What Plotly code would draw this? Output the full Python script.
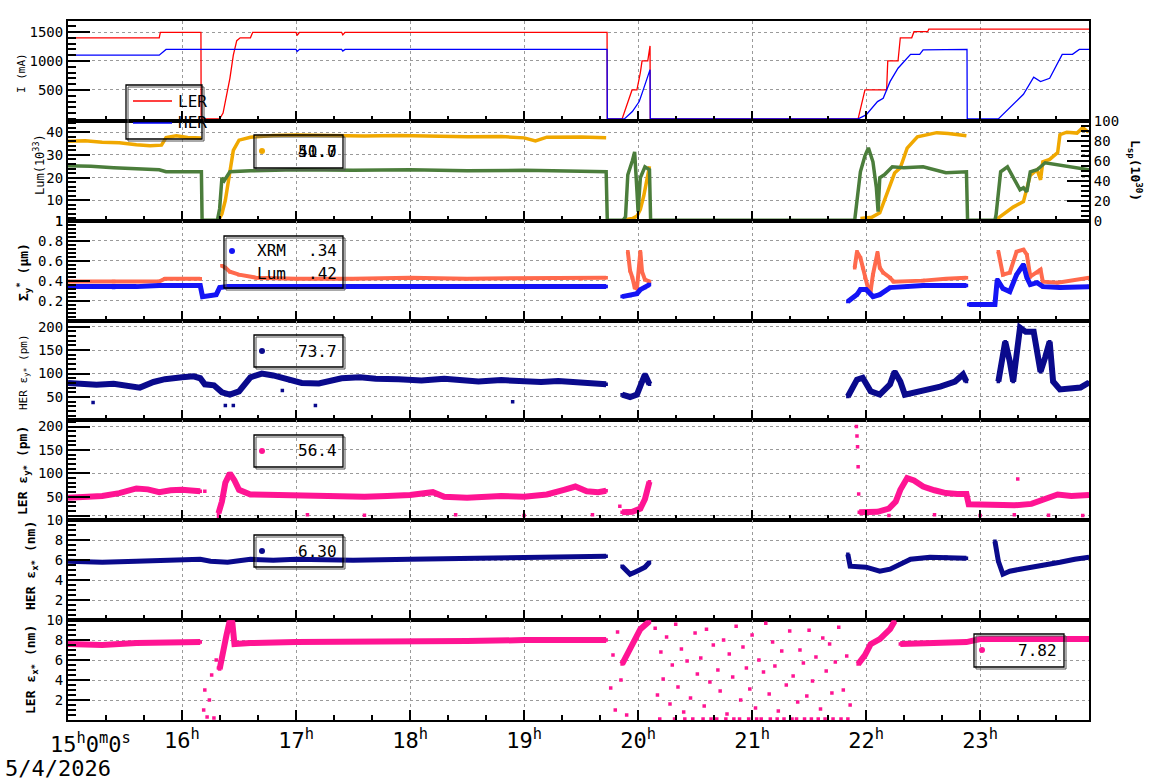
import plotly.graph_objects as go
from plotly.subplots import make_subplots

# ---------------- data (time in hours of 5/4/2026) ----------------
HOURS = [15, 16, 17, 18, 19, 20, 21, 22, 23]
HOUR_LABELS = ["", "16<sup>h</sup>", "17<sup>h</sup>", "18<sup>h</sup>", "19<sup>h</sup>",
               "20<sup>h</sup>", "21<sup>h</sup>", "22<sup>h</sup>", "23<sup>h</sup>"]

LER_T = [15.0, 15.80, 15.81, 16.166, 16.168, 16.33, 16.36, 16.39, 16.42, 16.45, 16.48, 16.51,
         16.60, 16.62, 17.0, 17.01, 17.03, 17.4, 17.41, 17.43, 19.728, 19.73, 19.86, 19.947,
         19.99, 20.02, 20.035, 20.085, 20.1, 20.105, 20.107, 21.93, 21.99, 22.18, 22.19, 22.28,
         22.30, 22.40, 22.42, 22.54, 22.55, 23.955]
LER_I = [1400, 1400, 1495, 1495, 0, 0, 100, 400, 700, 1100, 1350, 1400,
         1400, 1495, 1495, 1440, 1495, 1495, 1450, 1495, 1495, 0, 0, 500,
         500, 800, 1000, 1000, 1260, 1260, 0, 0, 500, 500, 1000, 1000,
         1400, 1400, 1505, 1505, 1550, 1550]

HER_T = [15.0, 15.80, 15.86, 17.0, 17.01, 17.03, 17.4, 17.41, 17.43, 19.728, 19.73, 19.88,
         19.95, 20.01, 20.04, 20.07, 20.095, 20.105, 20.107, 21.93, 22.0, 22.1, 22.15, 22.21,
         22.28, 22.33, 22.39, 22.47, 22.5, 22.885, 22.887, 23.16, 23.38, 23.47, 23.53, 23.61,
         23.67, 23.72, 23.81, 23.87, 23.955]
HER_I = [1100, 1100, 1200, 1200, 1165, 1200, 1200, 1170, 1200, 1200, 0, 0,
         126, 300, 470, 643, 827, 850, 0, 0, 69, 298, 356, 643,
         874, 988, 1114, 1114, 1190, 1200, 0, 0, 425, 719, 643, 700,
         931, 1114, 1114, 1200, 1200]

LUM_T = [15.0, 15.15, 15.3, 15.45, 15.6, 15.72, 15.82, 15.86, 15.95, 16.05, 16.17, None,
         16.32, 16.35, 16.38, 16.42, 16.45, 16.5, 16.6, 16.8, 17.0, 17.3, 17.6, 17.9, 18.2,
         18.5, 18.8, 19.0, 19.1, 19.2, 19.5, 19.72, None,
         19.86, 19.95, 19.99, 20.02, 20.05, 20.08, 20.1, None,
         21.95, 22.05, 22.12, 22.16, 22.2, 22.25, 22.3, 22.36, 22.45, 22.55, 22.62, 22.72,
         22.8, 22.88, None,
         23.14, 23.2, 23.29, 23.38, 23.44, 23.5, 23.53, 23.55, 23.61, 23.68, 23.7, 23.76,
         23.85, 23.9, 23.95]
LUM_V = [36.0, 36.2, 35.6, 35.4, 34.5, 34.0, 34.3, 37.6, 38.4, 37.7, 37.5, None,
         1.2, 4, 10, 22, 32, 36.5, 37.8, 38.5, 38.8, 38.5, 38.3, 38.6, 38.2,
         38.0, 38.1, 37.5, 36.2, 37.8, 37.9, 37.6, None,
         1.2, 2.0, 3.0, 6, 12, 20, 25, None,
         2.0, 2.5, 4.5, 10, 16, 22, 24.3, 33, 38, 39.2, 39.8, 39.4,
         38.8, 38.4, None,
         1.5, 3.6, 7, 9.4, 21, 23.5, 19, 27, 28, 31, 38.9, 40,
         39.6, 42, 40]

LSP_T = [15.0, 15.2, 15.4, 15.6, 15.8, 15.86, 16.0, 16.17, 16.176, 16.31, 16.33, 16.35, 16.37,
         16.42, 16.6, 17.0, 17.5, 18.0, 18.5, 19.0, 19.5, 19.72, 19.73, 19.87, 19.89, 19.91,
         19.95, 19.97, 19.99, 20.0, 20.02, 20.06, 20.1, 20.11, 21.9, 21.92, 21.95, 21.99, 22.02,
         22.06, 22.09, 22.105, 22.12, 22.16, 22.23, 22.33, 22.5, 22.7, 22.88, 22.89, 23.13,
         23.14, 23.16, 23.18, 23.24, 23.29, 23.35, 23.38, 23.41, 23.44, 23.5, 23.57, 23.68,
         23.8, 23.955]
LSP_V = [55, 54.5, 53, 52, 51, 49, 49, 49, 0.5, 0.5, 12, 43, 40,
         49, 50, 51, 50.5, 51, 50, 50.5, 49.5, 49, 0.5, 0.5, 4, 46,
         60, 69, 30, 9, 43, 54, 51, 0.5, 0.5, 20, 49, 65, 73,
         59, 33, 9, 43, 46, 54, 53, 54, 48, 49, 0.5, 0.5,
         6, 26, 49, 54, 43, 31, 33, 29, 49, 51, 58, 56,
         53, 51]

XRM_T = [15.0, 15.2, 15.4, 15.6, 15.8, 16.0, 16.16, 16.18, 16.25, 16.3, 16.33, 16.4, 16.6,
         17.0, 17.5, 18.0, 18.5, 19.0, 19.5, 19.72, None,
         19.86, 19.93, 19.99, 20.02, 20.06, 20.1, None,
         21.84, 21.92, 21.95, 22.0, 22.06, 22.12, 22.21, 22.36, 22.5, 22.7, 22.88, None,
         22.9, 23.0, 23.13, 23.15, 23.2, 23.26, 23.32, 23.38, 23.41, 23.44, 23.5, 23.55,
         23.7, 23.955]
XRM_V = [0.34, 0.34, 0.33, 0.34, 0.35, 0.35, 0.35, 0.24, 0.25, 0.26, 0.33, 0.34, 0.34,
         0.34, 0.34, 0.34, 0.34, 0.34, 0.34, 0.34, None,
         0.24, 0.25, 0.27, 0.31, 0.33, 0.36, None,
         0.19, 0.26, 0.31, 0.31, 0.24, 0.26, 0.33, 0.34, 0.35, 0.35, 0.35, None,
         0.16, 0.16, 0.16, 0.41, 0.32, 0.29, 0.46, 0.56, 0.43, 0.36, 0.38, 0.34,
         0.33, 0.34]

SLUM_T = [15.0, 15.4, 15.8, 15.85, 16.16, None,
          16.35, 16.38, 16.42, 16.5, 16.65, 17.0, 17.5, 18.0, 18.5, 19.0, 19.5, 19.72, None,
          19.91, 19.93, 19.95, 19.97, 19.99, 20.02, 20.035, 20.06, 20.1, None,
          21.9, 21.92, 21.95, 21.97, 21.99, 22.02, 22.04, 22.06, 22.1, 22.12, 22.15, 22.21,
          22.24, 22.5, 22.7, 22.88, None,
          23.16, 23.2, 23.26, 23.32, 23.38, 23.41, 23.44, 23.5, 23.53, 23.55, 23.68, 23.955]
SLUM_V = [0.39, 0.39, 0.39, 0.42, 0.42, None,
          0.55, 0.53, 0.49, 0.46, 0.43, 0.42, 0.42, 0.43, 0.42, 0.42, 0.42, 0.43, None,
          0.69, 0.50, 0.43, 0.33, 0.32, 0.69, 0.49, 0.41, 0.39, None,
          0.53, 0.69, 0.63, 0.53, 0.43, 0.31, 0.30, 0.46, 0.68, 0.53, 0.48, 0.43,
          0.39, 0.40, 0.42, 0.43, None,
          0.69, 0.46, 0.48, 0.69, 0.71, 0.66, 0.44, 0.48, 0.51, 0.39, 0.38, 0.43]

HEY_T = [15.0, 15.1, 15.25, 15.4, 15.5, 15.63, 15.75, 15.85, 16.0, 16.1, 16.16, 16.2, 16.28,
         16.35, 16.42, 16.5, 16.6, 16.7, 16.8, 16.86, 16.95, 17.05, 17.2, 17.3, 17.4, 17.56,
         17.7, 17.9, 18.1, 18.3, 18.5, 18.6, 18.8, 19.0, 19.15, 19.3, 19.5, 19.72, None,
         19.86, 19.93, 19.99, 20.02, 20.06, 20.1, None,
         21.84, 21.92, 21.97, 22.04, 22.12, 22.21, 22.25, 22.3, 22.34, 22.47, 22.65, 22.78,
         22.85, 22.88, None,
         23.16, 23.22, 23.26, 23.29, 23.35, 23.4, 23.47, 23.5, 23.53, 23.57, 23.61, 23.64,
         23.7, 23.88, 23.955]
HEY_V = [80, 78, 76, 78, 74, 70, 82, 88, 92, 94, 90, 77, 75,
         60, 55, 62, 92, 100, 96, 92, 84, 80, 79, 84, 90, 92,
         89, 88, 85, 89, 84, 83, 86, 83, 82, 84, 80, 77, None,
         55, 50, 55, 72, 98, 77, None,
         51, 87, 91, 62, 55, 77, 104, 83, 55, 62, 72, 83,
         98, 83, None,
         83, 168, 126, 83, 198, 189, 189, 140, 104, 134, 168, 83,
         66, 70, 81]
HEY_OUT_T = [16.38, 16.45, 16.88, 17.17, 15.22, 18.9]
HEY_OUT_V = [32, 32, 64, 32, 38, 40]

LEY_T = [15.0, 15.15, 15.3, 15.45, 15.6, 15.7, 15.8, 15.9, 16.0, 16.16, None,
         16.32, 16.35, 16.38, 16.42, 16.46, 16.5, 16.6, 16.8, 17.0, 17.3, 17.6, 17.8, 18.0,
         18.2, 18.3, 18.5, 18.8, 19.0, 19.2, 19.35, 19.45, 19.55, 19.65, 19.72, None,
         19.86, 19.95, 20.02, 20.06, 20.1, None,
         21.94, 22.0, 22.1, 22.2, 22.26, 22.3, 22.36, 22.42, 22.5, 22.6, 22.7, 22.8, 22.88,
         22.9, 23.1, 23.3, 23.45, 23.55, 23.68, 23.8, 23.955]
LEY_V = [48, 50, 52, 58, 68, 66, 60, 64, 65, 62, None,
         15, 40, 80, 100, 85, 65, 55, 54, 52, 53, 50, 52, 54,
         60, 50, 48, 52, 50, 55, 65, 72, 62, 60, 63, None,
         17, 18, 25, 45, 82, None,
         17, 17, 18, 25, 40, 65, 90, 85, 72, 64, 58, 56, 56,
         34, 33, 32, 35, 45, 55, 52, 54]
LEY_OUT_T = [21.915, 21.92, 21.925, 21.93, 21.935, 23.33, 16.32, 17.1, 17.6, 18.4, 19.0,
             19.6, 22.2, 22.6, 23.0, 23.3, 23.6, 23.9, 16.2, 19.84]
LEY_OUT_V = [200, 180, 157, 114, 56, 88, 8, 12, 11, 12, 10,
             12, 10, 12, 10, 12, 11, 10, 62, 30]

HEX_T = [15.0, 15.3, 15.6, 15.9, 16.16, 16.25, 16.4, 16.6, 16.8, 17.0, 17.5, 18.0, 18.5,
         19.0, 19.5, 19.72, None,
         19.86, 19.93, 19.99, 20.06, 20.1, None,
         21.84, 21.86, 22.0, 22.12, 22.21, 22.3, 22.39, 22.56, 22.7, 22.88, None,
         23.13, 23.16, 23.2, 23.26, 23.35, 23.53, 23.7, 23.83, 23.955]
HEX_V = [5.9, 5.8, 5.9, 6.0, 6.1, 5.9, 5.8, 6.1, 6.0, 6.1, 6.0, 6.1, 6.2,
         6.2, 6.3, 6.4, None,
         5.4, 4.6, 4.9, 5.3, 5.8, None,
         6.6, 5.4, 5.3, 4.9, 5.1, 5.6, 6.1, 6.3, 6.3, 6.2, None,
         7.9, 5.9, 4.6, 4.9, 5.1, 5.4, 5.8, 6.1, 6.3]

LEX_T = [15.0, 15.3, 15.6, 15.9, 16.16, None,
         16.33, 16.36, 16.39, 16.42, 16.44, 16.46, 16.6, 17.0, 17.5, 18.0, 18.5, 19.0, 19.5,
         19.72, None,
         19.86, 19.93, 20.02, 20.1, None,
         21.93, 21.99, 22.04, 22.12, 22.21, 22.25, None,
         22.3, 22.5, 22.7, 22.88, 23.0, 23.3, 23.6, 23.955]
LEX_V = [7.6, 7.5, 7.7, 7.8, 7.8, None,
         5.1, 6.5, 8.5, 10, 9.9, 7.6, 7.7, 7.8, 7.8, 7.9, 7.9, 8.0, 8.0,
         8.0, None,
         5.6, 7.1, 9.1, 9.9, None,
         5.6, 6.5, 7.6, 8.1, 9.1, 9.9, None,
         7.6, 7.7, 7.8, 7.8, 8.1, 8.1, 8.1, 8.1]
LEX_OUT_T = [16.19, 16.2, 16.22, 16.24, 16.26, 16.28, 16.3, 16.32, 19.76, 19.78, 19.8, 19.82,
             19.85, 19.9, 20.15, 20.17, 20.2, 20.22, 20.25, 20.28, 20.3, 20.33, 20.35, 20.38,
             20.4, 20.43, 20.46, 20.5, 20.52, 20.55, 20.58, 20.6, 20.63, 20.66, 20.7, 20.72,
             20.75, 20.78, 20.8, 20.83, 20.86, 20.9, 20.92, 20.95, 20.98, 21.0, 21.03, 21.06,
             21.1, 21.12, 21.15, 21.18, 21.2, 21.23, 21.26, 21.3, 21.33, 21.36, 21.4, 21.42,
             21.45, 21.48, 21.5, 21.53, 21.56, 21.6, 21.62, 21.65, 21.68, 21.7, 21.73, 21.76,
             21.8, 21.83, 21.86, 20.19, 20.32, 20.41, 20.48, 20.57, 20.64, 20.69, 20.77, 20.84,
             20.89, 20.97, 21.04, 21.08, 21.16, 21.22, 21.28, 21.35, 21.39, 21.46, 21.52, 21.58,
             21.64, 21.71, 21.78, 21.84]
LEX_OUT_V = [1.0, 3.0, 0.3, 2.0, 4.5, 0.2, 6.0, 5.2, 3.2, 6.5, 1.0, 8.8,
             4.0, 0.5, 9.2, 2.5, 6.8, 4.1, 8.3, 1.6, 5.5, 9.6, 3.3, 7.1,
             0.8, 5.9, 2.2, 8.7, 4.6, 6.2, 1.4, 9.1, 3.8, 7.5, 5.0, 2.9,
             8.0, 0.6, 6.6, 4.3, 9.4, 2.0, 7.3, 5.2, 3.1, 8.5, 1.2, 6.0,
             4.8, 9.7, 2.6, 7.8, 5.4, 0.9, 6.9, 3.5, 8.9, 4.4, 1.8, 7.0,
             5.7, 2.4, 9.0, 3.9, 6.3, 1.1, 8.2, 4.9, 7.6, 2.7, 5.8, 9.3,
             3.0, 6.4, 1.5, 0.1, 0.1, 0.1, 0.1, 0.1, 0.1, 0.1, 0.1, 0.1,
             0.1, 0.1, 0.1, 0.1, 0.1, 0.1, 0.1, 0.1, 0.1, 0.1, 0.1, 0.1,
             0.1, 0.1, 0.1, 0.1]

# ---------------- figure ----------------
FONT = "DejaVu Sans Mono"
W, H = 1160, 782
L, R, T, B = 68, 1089, 21, 720

C_LER, C_HER = "#ff0000", "#0000ff"
C_LUM, C_LSP = "#f0a800", "#4b7d3b"
C_SLUM, C_XRM = "#ff6a4d", "#1414f5"
C_NAVY, C_PINK = "#0a0a8c", "#ff1493"

fig = make_subplots(rows=7, cols=1, shared_xaxes=True, vertical_spacing=0,
                    specs=[[{}], [{"secondary_y": True}], [{}], [{}], [{}], [{}], [{}]])

def line(x, y, color, width=1.3):
    return go.Scatter(x=x, y=y, mode="lines", line=dict(color=color, width=width),
                      showlegend=False, hoverinfo="skip")

def band(x, y, color, width=4.5, size=3.5):
    return go.Scatter(x=x, y=y, mode="lines+markers", line=dict(color=color, width=width),
                      marker=dict(color=color, size=size, symbol="square"),
                      showlegend=False, hoverinfo="skip")

def dots(x, y, color, size=3.5):
    return go.Scatter(x=x, y=y, mode="markers", marker=dict(color=color, size=size, symbol="square"),
                      showlegend=False, hoverinfo="skip")

fig.add_trace(line(LER_T, LER_I, C_LER), row=1, col=1)
fig.add_trace(line(HER_T, HER_I, C_HER), row=1, col=1)
fig.add_trace(line(LSP_T, LSP_V, C_LSP, 3.5), row=2, col=1, secondary_y=True)
fig.add_trace(line(LUM_T, LUM_V, C_LUM, 3.5), row=2, col=1, secondary_y=False)
fig.add_trace(band(SLUM_T, SLUM_V, C_SLUM, 4), row=3, col=1)
fig.add_trace(band(XRM_T, XRM_V, C_XRM, 5), row=3, col=1)
fig.add_trace(band(HEY_T, HEY_V, C_NAVY, 6), row=4, col=1)
fig.add_trace(dots(HEY_OUT_T, HEY_OUT_V, C_NAVY), row=4, col=1)
fig.add_trace(band(LEY_T, LEY_V, C_PINK, 6), row=5, col=1)
fig.add_trace(dots(LEY_OUT_T, LEY_OUT_V, C_PINK), row=5, col=1)
fig.add_trace(band(HEX_T, HEX_V, C_NAVY, 5), row=6, col=1)
fig.add_trace(band(LEX_T, LEX_V, C_PINK, 6), row=7, col=1)
fig.add_trace(dots(LEX_OUT_T, LEX_OUT_V, C_PINK), row=7, col=1)

GRID = dict(showgrid=True, gridcolor="#9a9a9a", griddash="dot", gridwidth=1)
for r in range(1, 8):
    fig.update_xaxes(row=r, col=1, domain=[0, 1], range=[15, 23.955], tickmode="array",
                     tickvals=HOURS, ticktext=HOUR_LABELS, ticks="inside", ticklen=10,
                     tickwidth=2, tickcolor="black", showline=True, linecolor="black",
                     linewidth=2, mirror=True, zeroline=False, **GRID,
                     minor=dict(ticks="inside", ticklen=5, tickwidth=1.5, tickcolor="black",
                                tickmode="linear", tick0=15, dtick=1 / 3, showgrid=False),
                     tickfont=dict(family=FONT, size=22, color="black"))

YCFG = [
    (1, [-34, 1690], [500, 1000, 1500], ["500", "1000", "1500"], 100),
    (2, [1, 45], [1, 10, 20, 30, 40], ["1", "10", "20", "30", "40"], 2),
    (3, [0, 1], [0.2, 0.4, 0.6, 0.8, 1.0], ["0.2", "0.4", "0.6", "0.8", "1"], 0.04),
    (4, [0, 213], [50, 100, 150, 200], ["50", "100", "150", "200"], 10),
    (5, [0, 213], [10, 50, 100, 150, 200], ["", "50", "100", "150", "200"], 10),
    (6, [0, 10], [2, 4, 6, 8, 10], ["2", "4", "6", "8", "10"], 0.5),
    (7, [0, 10], [2, 4, 6, 8, 10], ["2", "4", "6", "8", "10"], 0.5),
]
for r, rng, tv, tt, mstep in YCFG:
    fig.update_yaxes(row=r, col=1, secondary_y=False, range=rng, tickmode="array",
                     tickvals=tv, ticktext=tt, ticks="inside", ticklen=22, tickwidth=2,
                     tickcolor="black", showline=True, linecolor="black", linewidth=2,
                     mirror=True, zeroline=False, **GRID,
                     minor=dict(ticks="inside", ticklen=8, tickwidth=1.5, tickcolor="black",
                                tickmode="linear", tick0=0, dtick=mstep, showgrid=False),
                     tickfont=dict(family=FONT, size=14, color="black"))

fig.update_yaxes(row=2, col=1, secondary_y=True, range=[0, 100], tickmode="array",
                 tickvals=[0, 20, 40, 60, 80, 100], ticktext=["0", "20", "40", "60", "80", "100"],
                 ticks="inside", ticklen=22, tickwidth=2, tickcolor="black", showline=True,
                 linecolor="black", linewidth=2, zeroline=False, showgrid=False,
                 minor=dict(ticks="inside", ticklen=8, tickwidth=1.5, tickcolor="black",
                            tickmode="linear", tick0=0, dtick=5, showgrid=False),
                 tickfont=dict(family=FONT, size=14, color="black"))

# ---------------- annotations / legend boxes ----------------
def fx(p):
    return (p - L) / (R - L)

def fy(p):
    return (B - p) / (B - T)

anns = []
shapes = []

def text(s, x, y, size=16, xanchor="left", angle=0, yanchor="middle"):
    anns.append(dict(text=s, x=fx(x), y=fy(y), xref="paper", yref="paper", showarrow=False,
                     xanchor=xanchor, yanchor=yanchor, textangle=angle,
                     font=dict(family=FONT, size=size, color="black")))

def box(x0, y0, x1, y1):
    shapes.append(dict(type="rect", xref="paper", yref="paper", x0=fx(x0 + 2), x1=fx(x1 + 2),
                       y0=fy(y1 + 2), y1=fy(y0 + 2), line=dict(color="#555", width=1)))
    shapes.append(dict(type="rect", xref="paper", yref="paper", x0=fx(x0), x1=fx(x1),
                       y0=fy(y1), y1=fy(y0), line=dict(color="black", width=1.3)))

def dot(cx, cy, color, r=3):
    shapes.append(dict(type="circle", xref="paper", yref="paper", x0=fx(cx - r), x1=fx(cx + r),
                       y0=fy(cy + r), y1=fy(cy - r), fillcolor=color, line=dict(width=0)))

def seg(x0, x1, y, color):
    shapes.append(dict(type="line", xref="paper", yref="paper", x0=fx(x0), x1=fx(x1),
                       y0=fy(y), y1=fy(y), line=dict(color=color, width=1.3)))

# panel 1 legend
box(126, 85, 202, 139)
seg(133, 172, 101, C_LER)
seg(133, 172, 123, C_HER)
text("LER", 176, 101, 16)
text("HER", 176, 123, 16)
# panel 2 legend
box(254, 135, 343, 168)
dot(262, 151, C_LUM)
text("50.7", 339, 151, 16, "right")
text("41.0", 339, 151, 16, "right")
# panel 3 legend
box(224, 236, 343, 288)
dot(232, 251, C_XRM)
text("XRM", 255, 251, 16)
text(".34", 339, 251, 16, "right")
text("Lum", 255, 273, 16)
text(".42", 339, 273, 16, "right")
# panels 4-7
box(254, 335, 343, 367); dot(262, 351, C_NAVY); text("73.7", 339, 351, 16, "right")
box(254, 435, 343, 467); dot(262, 451, C_PINK); text("56.4", 339, 451, 16, "right")
box(254, 535, 343, 567); dot(262, 551, C_NAVY); text("6.30", 339, 551, 16, "right")
box(974, 634, 1064, 667); dot(982, 650, C_PINK); text("7.82", 1059, 650, 16, "right")

# axis titles
text("I (mA)", 21, 73, 11, "center", -90)
text("Lum(10<sup>33</sup>)", 39, 165, 12, "center", -90)
text("<b>Σ<sub>y</sub><sup>*</sup> (µm)</b>", 24, 272, 13, "center", -90)
text("HER ε<sub>y*</sub> (pm)", 24, 372, 11, "center", -90)
text("<b>LER ε<sub>y*</sub> (pm)</b>", 23, 471, 13, "center", -90)
text("<b>HER ε<sub>x*</sub> (nm)</b>", 31, 566, 13, "center", -90)
text("<b>LER ε<sub>x*</sub> (nm)</b>", 31, 670, 13, "center", -90)
text("<b>L<sub>sp</sub>(10<sup>30</sup>)</b>", 1135, 170, 13, "center", 90)

# first time label and date
text("15<sup>h</sup>0<sup>m</sup>0<sup>s</sup>", 90, 743, 22, "center")
text("5/4/2026", 3, 768, 22, "left")

fig.update_layout(width=W, height=H, autosize=False,
                  margin=dict(l=L, r=W - R, t=T, b=H - B),
                  paper_bgcolor="white", plot_bgcolor="white",
                  annotations=anns, shapes=shapes, showlegend=False,
                  font=dict(family=FONT, color="black"))

fig.write_html("out.html")
